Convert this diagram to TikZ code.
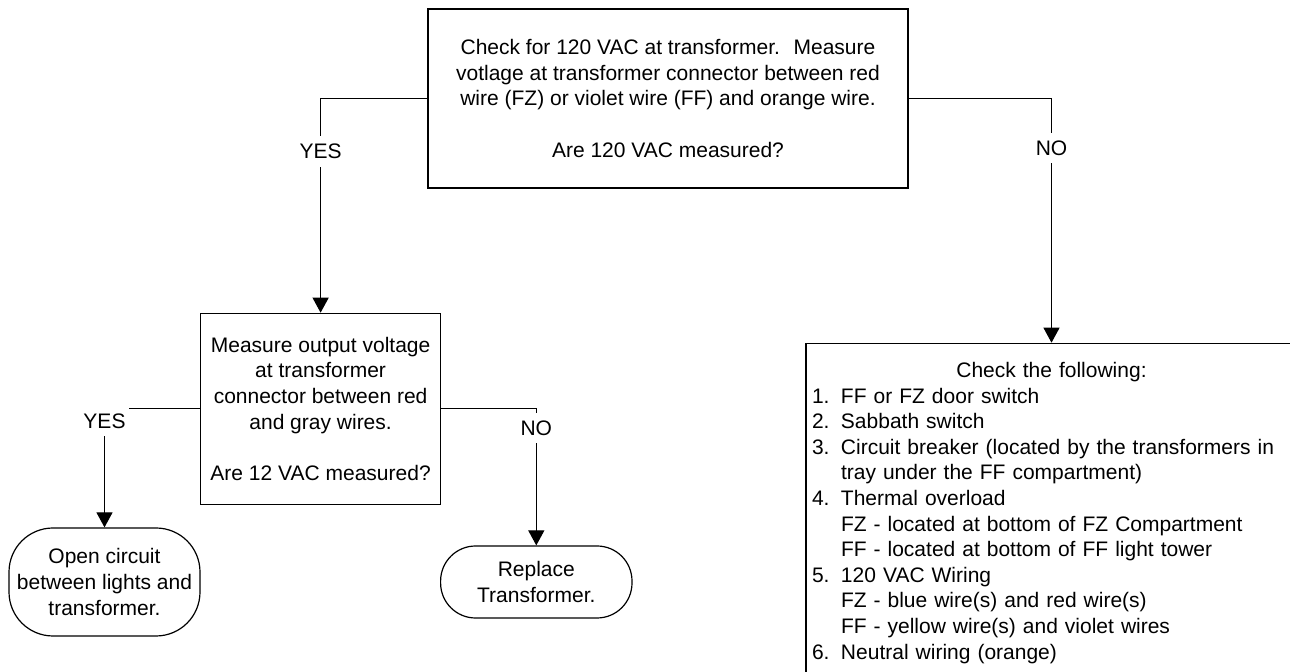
\documentclass[tikz,border=0pt]{standalone}
\usepackage{fontspec}
\setmainfont{Liberation Sans}
\usetikzlibrary{arrows.meta}

\newcommand{\listno}[1]{\makebox[14.5pt][l]{#1}}
\newcommand{\listind}{\hspace*{14.5pt}}

\tikzset{
  every node/.style={font=\fontsize{10.5pt}{12.8pt}\selectfont},
  question/.style={draw, line width=0.6pt, fill=white, align=center, inner sep=0pt},
  terminal/.style={draw, line width=0.6pt, fill=white, align=center, inner sep=0pt},
  listbox/.style={draw, line width=0.6pt, fill=white, text width=239.5pt, align=left,
    inner xsep=3pt, inner ysep=9.5pt},
  flow/.style={line width=0.6pt, -{Triangle[length=7.5pt,width=8pt]}},
  answer/.style={fill=white, inner xsep=1.5pt, inner ysep=4pt},
}

\begin{document}
\begin{tikzpicture}[x=0.5pt, y=-0.5pt]
  \clip (0,0) rectangle (1290,672);
  % questions
  \node[question, minimum width=240pt, minimum height=89.5pt] (q120) at (668,98.5)
    {Check for 120 VAC at transformer.~ Measure\\
     votlage at transformer connector between red\\
     wire (FZ) or violet wire (FF) and orange wire.\\[12.8pt]
     Are 120 VAC measured?};
  \node[question, minimum width=120pt, minimum height=95.5pt] (q12) at (320.6,408.8)
    {Measure output voltage\\
     at transformer\\
     connector between red\\
     and gray wires.\\[12.8pt]
     Are 12 VAC measured?};
  % outcomes
  \node[terminal, minimum width=95.5pt, minimum height=54pt, rounded corners=22pt] (openckt) at (104.5,582)
    {Open circuit\\ between lights and\\ transformer.};
  \node[terminal, minimum width=95.7pt, minimum height=36pt, rounded corners=17.5pt] (replace) at (536.3,582)
    {Replace\\ Transformer.};
  \node[listbox, anchor=north] (checklist) at (1051.5,342.7)
    {{\centering Check the following:\par}
     \listno{1.}FF or FZ door switch\\
     \listno{2.}Sabbath switch\\
     \listno{3.}Circuit breaker (located by the transformers in\\
     \listind tray under the FF compartment)\\
     \listno{4.}Thermal overload\\
     \listind FZ - located at bottom of FZ Compartment\\
     \listind FF - located at bottom of FF light tower\\
     \listno{5.}120 VAC Wiring\\
     \listind FZ - blue wire(s) and red wire(s)\\
     \listind FF - yellow wire(s) and violet wires\\
     \listno{6.}Neutral wiring (orange)};
  % connectors
  \draw[flow] (q120.west) -| (q12.north);
  \draw[flow] (q120.east) -| (checklist.north);
  \draw[flow] (q12.west) -| (openckt.north);
  \draw[flow] (q12.east) -| (replace.north);
  % answers
  \node[answer] (yes1) at (320.6,151.5) {YES};
  \node[answer] (no1) at (1051.5,148) {NO};
  \node[answer] (yes2) at (104.5,421) {YES};
  \node[answer] (no2) at (536.3,428) {NO};
\end{tikzpicture}
\end{document}
